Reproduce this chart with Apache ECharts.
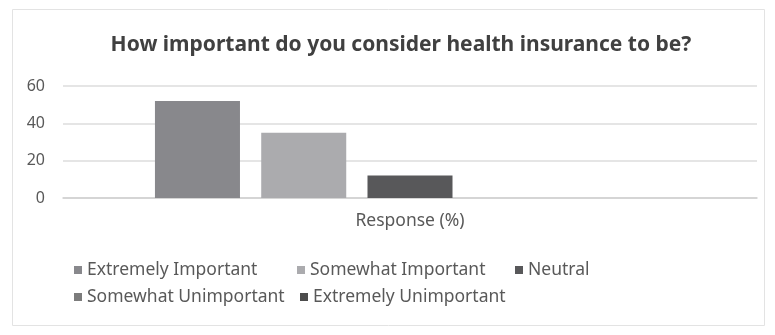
<!DOCTYPE html>
<html><head><meta charset="utf-8">
<script src="https://cdn.jsdelivr.net/npm/echarts@6/dist/echarts.min.js"></script>
<style>html,body{margin:0;padding:0;background:#fff}#c{width:775px;height:335px}</style>
</head><body><div id="c"></div>
<script>
const categories = ['Response (%)'];
const seriesNames = ['Extremely Important','Somewhat Important','Neutral','Somewhat Unimportant','Extremely Unimportant'];
const extremelyImportant = [52];
const somewhatImportant = [35];
const neutral = [12];
const somewhatUnimportant = [0];
const extremelyUnimportant = [0];
const yTicks = [0, 20, 40, 60];

const values = [extremelyImportant, somewhatImportant, neutral, somewhatUnimportant, extremelyUnimportant];
const colors = ['#88888c','#ababae','#58585a','#7c7c7c','#4c4c4c'];
const FONT = 'Noto Sans';
const legendPos = [[74,261],[297,261],[515,261],[74,288],[300,288]];

const chart = echarts.init(document.getElementById('c'));
chart.setOption({
  animation: false,
  textStyle: {fontFamily: FONT},
  title: {text: 'How important do you consider health insurance to be?', left: 396, textAlign: 'center', top: 30,
    textStyle: {fontFamily: FONT, fontSize: 21, fontWeight: 'bold', color: '#404040'}},
  graphic: [{type: 'rect', shape: {x: 12.5, y: 9.5, width: 752, height: 316}, style: {fill: 'none', stroke: '#e3e3e3', lineWidth: 1}}],
  legend: seriesNames.map((n, i) => ({data: [n], left: legendPos[i][0], top: legendPos[i][1], itemWidth: 8, itemHeight: 8, itemGap: 0,
    padding: 0, icon: 'rect', textStyle: {fontFamily: FONT, fontSize: 17.5, color: '#595959'}})),
  grid: {left: 63, right: 18, top: 86, bottom: 137, containLabel: false},
  xAxis: {type: 'category', data: categories, axisTick: {show: false},
    axisLine: {lineStyle: {color: '#d0d0d0', width: 1.5}},
    axisLabel: {fontFamily: FONT, fontSize: 17.5, color: '#595959', margin: 14}},
  yAxis: {type: 'value', min: yTicks[0], max: yTicks[yTicks.length-1], interval: 20,
    axisLine: {show: false}, axisTick: {show: false},
    splitLine: {lineStyle: {color: '#dcdcdc', width: 1.5}},
    axisLabel: {fontFamily: FONT, fontSize: 16, color: '#595959', margin: 18}},
  series: seriesNames.map((n, i) => ({name: n, type: 'bar', data: values[i], barWidth: '12.25%', barGap: '25%',
    itemStyle: {color: colors[i]}}))
});
</script></body></html>
